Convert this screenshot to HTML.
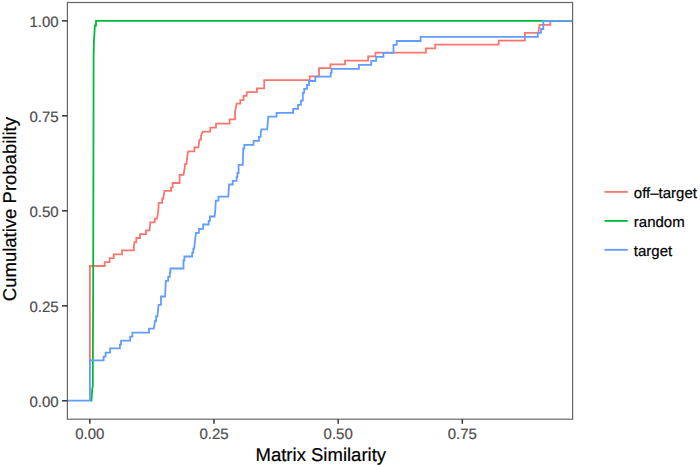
<!DOCTYPE html>
<html><head><meta charset="utf-8"><style>
html,body{margin:0;padding:0;background:#fff;}
svg{display:block;}
text{text-rendering:geometricPrecision;font-family:"Liberation Sans",sans-serif;}
.ax{font-size:15px;fill:#4d4d4d;stroke:#4d4d4d;stroke-width:0.2px;}
.tt{font-size:18.5px;fill:#000;stroke:#000;stroke-width:0.2px;}
.lg{font-size:15px;fill:#000;stroke:#000;stroke-width:0.2px;}
.tk{stroke:#333;stroke-width:1.5;}
.ln{fill:none;stroke-width:1.8;stroke-linejoin:miter;stroke-linecap:butt;}
</style></head><body>
<svg width="700" height="467" viewBox="0 0 700 467">
<rect x="0" y="0" width="700" height="467" fill="#fff"/>
<path class="ln" stroke="#F8766D" d="M 89.9,361.4 V 266 H 104.7 V 262.2 H 109.7 V 258.1 H 113.7 V 254.3 H 122 V 250.4 H 133.8 V 246.6 L 134.5,242.2 H 136.3 V 238 H 140 V 234.2 H 146 V 230.3 H 149.5 L 150.3,222.3 H 154.7 V 218.7 H 157 L 158.3,211 L 158.7,202.8 H 162.2 V 198.5 H 163.2 L 164.5,190.9 H 171.2 V 187.4 H 172.6 V 183 H 179.6 V 174.9 H 183.5 L 184.5,169.5 L 185.2,164 H 186.4 L 187.5,155 L 188.2,151.3 H 194.4 V 147.4 H 198.4 L 199.5,139.7 H 201 V 135.7 L 202.7,131.7 H 210.3 V 127.6 H 216 V 123.7 H 229.6 V 119.4 H 235 V 111.9 L 236.6,103.7 H 240.3 V 100.2 H 243.5 V 95.9 H 246.7 V 92.1 H 256.9 V 88.4 H 264.2 V 80.2 H 309.7 V 76.4 H 319 V 68.1 H 330.4 V 64.4 H 345 V 60.6 H 368.2 V 56.3 H 375.5 V 52.6 H 425.9 V 48.4 H 435.2 V 44.7 H 498.7 V 40.7 H 524.9 V 32.8 H 538.3 L 539.5,24.9 H 550.3 V 20.95 H 572.6"/>
<path class="ln" stroke="#00BA38" d="M 90.6,400.7 H 91.5 L 92.0,392 L 92.2,389 L 92.8,386 L 92.9,345 L 93.1,308 L 93.35,198 L 93.55,98 L 93.6,56 L 93.9,42 L 94.3,36 L 94.9,25.5 H 96 V 20.95 H 572.6"/>
<path class="ln" stroke="#619CFF" d="M 67,400.7 H 89.9 V 360.4 H 103.6 V 356.7 H 105.6 V 352.6 H 110.1 V 348.3 H 119.9 V 344.7 H 121 V 340.7 H 130.2 V 336.6 H 132.4 V 332.7 H 149 V 328.7 H 153.8 L 154.5,324 L 155,321 H 156.1 V 316.5 H 157.4 L 158.6,304.8 H 161 V 296.5 H 165.1 L 165.8,280.8 H 168.2 V 276.9 H 169.8 V 272.5 H 170.4 V 268.5 H 183.5 V 260.5 H 184.4 V 256.5 H 192.2 V 252.6 H 193.3 V 248.6 H 194.2 L 195.3,238 L 196,232.9 H 198.9 V 228.8 H 203.2 V 224.5 H 208.7 V 220.9 H 209.9 V 216.5 H 214.6 L 215.4,208.8 L 215.8,200.7 H 218.5 V 196.6 H 228.3 L 228.8,188 L 229,184.5 H 232.7 V 180.8 H 236.6 V 177.2 H 237.4 V 173 H 238.6 V 164.8 H 242.8 L 243.2,148.6 H 244.3 V 144.8 H 253.5 V 140.9 H 258.9 V 136.8 H 260.7 V 132.9 L 261.5,129.4 H 267.2 L 268.3,116.7 H 276.5 V 112.8 H 293.1 V 108.8 H 298 V 104.8 H 300.9 V 100.7 H 302.8 V 92.8 H 304.2 V 88.9 H 307 V 85 H 309 V 81 H 315.3 V 76.7 H 330.7 V 72.6 H 331.6 V 68.8 H 358.9 V 64.8 H 371.2 V 60.8 H 376.2 V 56.8 H 383.4 V 52.8 H 393.5 V 44.9 H 396.7 V 41 H 420.6 V 36.9 H 537.8 V 32.8 H 541 V 29 H 543.3 V 20.95 H 572.6"/>
<rect x="67.4" y="2.5" width="505.2" height="416.7" fill="none" stroke="#666" stroke-width="1.2"/>
<line x1="62.0" y1="400.80" x2="67.4" y2="400.80" class="tk"/><text transform="translate(58.7,406.70) scale(1,1)" class="ax" text-anchor="end">0.00</text><line x1="62.0" y1="305.81" x2="67.4" y2="305.81" class="tk"/><text transform="translate(58.7,311.71) scale(1,1)" class="ax" text-anchor="end">0.25</text><line x1="62.0" y1="210.83" x2="67.4" y2="210.83" class="tk"/><text transform="translate(58.7,216.73) scale(1,1)" class="ax" text-anchor="end">0.50</text><line x1="62.0" y1="115.84" x2="67.4" y2="115.84" class="tk"/><text transform="translate(58.7,121.74) scale(1,1)" class="ax" text-anchor="end">0.75</text><line x1="62.0" y1="20.85" x2="67.4" y2="20.85" class="tk"/><text transform="translate(58.7,26.75) scale(1,1)" class="ax" text-anchor="end">1.00</text><line x1="89.80" y1="419.2" x2="89.80" y2="423.8" class="tk"/><text transform="translate(89.80,438.8) scale(1,1)" class="ax" text-anchor="middle">0.00</text><line x1="213.97" y1="419.2" x2="213.97" y2="423.8" class="tk"/><text transform="translate(213.97,438.8) scale(1,1)" class="ax" text-anchor="middle">0.25</text><line x1="338.15" y1="419.2" x2="338.15" y2="423.8" class="tk"/><text transform="translate(338.15,438.8) scale(1,1)" class="ax" text-anchor="middle">0.50</text><line x1="462.32" y1="419.2" x2="462.32" y2="423.8" class="tk"/><text transform="translate(462.32,438.8) scale(1,1)" class="ax" text-anchor="middle">0.75</text>
<text x="320.8" y="460.7" class="tt" text-anchor="middle">Matrix Similarity</text>
<text transform="translate(16.0,209.1) rotate(-90)" x="0" y="0" class="tt" text-anchor="middle">Cumulative Probability</text>
<line x1="604.5" y1="191.9" x2="627.8" y2="191.9" stroke="#F8766D" stroke-width="1.85"/>
<line x1="604.5" y1="220.9" x2="627.8" y2="220.9" stroke="#00BA38" stroke-width="1.85"/>
<line x1="604.5" y1="249.8" x2="627.8" y2="249.8" stroke="#619CFF" stroke-width="1.85"/>
<text x="633.8" y="197.8" class="lg">off–target</text>
<text x="633.8" y="226.8" class="lg">random</text>
<text x="633.8" y="255.6" class="lg">target</text>
</svg>
</body></html>
